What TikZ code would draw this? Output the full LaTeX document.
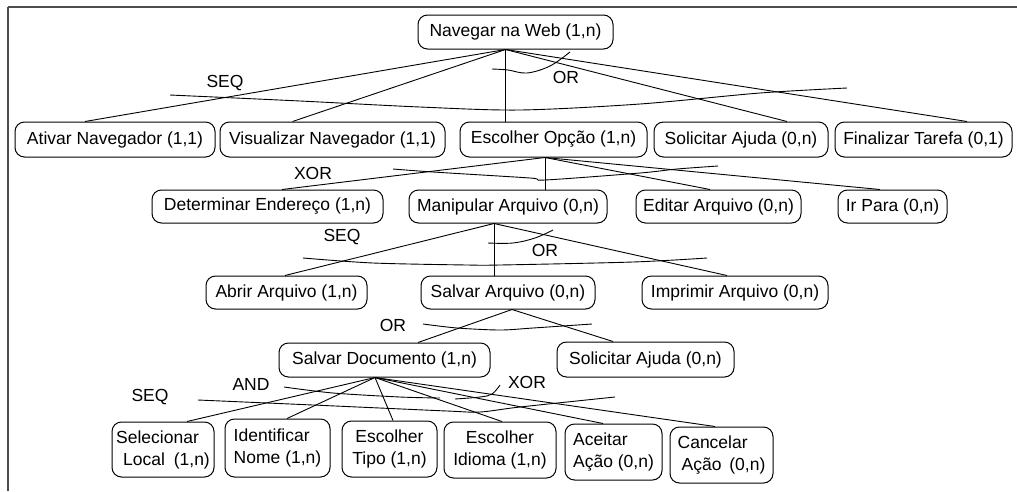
\documentclass[tikz,border=0pt]{standalone}
\usepackage{fontspec}
\setmainfont{Liberation Sans}
\begin{document}
\begin{tikzpicture}[x=1pt,y=-1pt,
  task/.style={draw, rounded corners=9.5pt, line width=1pt, inner sep=0pt,
    font=\fontsize{17.5}{22}\selectfont, align=center},
  lbl/.style={inner sep=0pt, font=\fontsize{17.5}{22}\selectfont},
  link/.style={line width=0.9pt},
  bar/.style={line width=0.9pt},
  frameline/.style={line width=2pt, draw=black!70}]
\useasboundingbox (0,0) rectangle (1017,491);
\fill[white] (0,0) rectangle (1017,491);

% outer frame (top and left edges)
\draw[frameline] (8,7) -- (1017,7);
\draw[frameline] (8,7) -- (8,491);

% ---- tasks ----
\node[task, minimum width=195, minimum height=34] (nav)  at (515.5,32)  {Navegar na Web (1,n)};

\node[task, minimum width=200, minimum height=35] (ativ) at (115,139.5)  {Ativar Navegador (1,1)};
\node[task, minimum width=225, minimum height=35] (visu) at (332.5,139.5){Visualizar Navegador (1,1)};
\node[task, minimum width=187, minimum height=35] (esco) at (553.5,139.5){Escolher Opção (1,n)};
\node[task, minimum width=174, minimum height=35] (soli) at (741,139.5)  {Solicitar Ajuda (0,n)};
\node[task, minimum width=177, minimum height=35] (fina) at (923.5,139.5){Finalizar Tarefa (0,1)};

\node[task, minimum width=231, minimum height=33] (dete) at (267.5,206.5){Determinar Endereço (1,n)};
\node[task, minimum width=198, minimum height=33] (mani) at (508,206.5)  {Manipular Arquivo (0,n)};
\node[task, minimum width=165, minimum height=33] (edit) at (718.5,206.5){Editar Arquivo (0,n)};
\node[task, minimum width=109, minimum height=33] (irpa) at (892.5,206.5){Ir Para (0,n)};

\node[task, minimum width=161, minimum height=33] (abri) at (286.5,292.5){Abrir Arquivo (1,n)};
\node[task, minimum width=174, minimum height=33] (salv) at (508,292.5)  {Salvar Arquivo (0,n)};
\node[task, minimum width=186, minimum height=33] (impr) at (735,292.5)  {Imprimir Arquivo (0,n)};

\node[task, minimum width=211, minimum height=34] (sdoc) at (384.5,360)  {Salvar Documento (1,n)};
\node[task, minimum width=177, minimum height=35] (sola) at (645.5,359.5){Solicitar Ajuda (0,n)};

\node[task, align=left, minimum width=102, minimum height=55] (sele) at (163,449.5)
  {Selecionar\\\hspace{7pt}Local\hspace{4pt} (1,n)};
\node[task, align=left, minimum width=105, minimum height=58] (iden) at (277.5,448)
  {Identificar\\Nome (1,n)};
\node[task, minimum width=95, minimum height=56] (etip) at (389.5,449)
  {Escolher\\Tipo (1,n)};
\node[task, minimum width=112, minimum height=56] (eidi) at (500,450)
  {Escolher\\Idioma (1,n)};
\node[task, align=left, minimum width=97, minimum height=56] (acei) at (613.5,452)
  {Aceitar\\Ação (0,n)};
\node[task, align=left, minimum width=103, minimum height=56] (canc) at (721.5,455)
  {Cancelar\\\hspace{4pt}Ação\hspace{3pt} (0,n)};

% ---- decomposition links ----
\coordinate (navb) at ([xshift=-10]nav.south);
\draw[link] (navb) -- ([xshift=-30]ativ.north);
\draw[link] (navb) -- ([xshift=-40]visu.north);
\draw[link] (navb) -- (navb |- esco.north);
\draw[link] (navb) -- ([xshift=46]soli.north);
\draw[link] (navb) -- ([xshift=43.5]fina.north);

\coordinate (escb) at ([xshift=-8.5]esco.south);
\draw[link] (escb) -- ([xshift=14.5]dete.north);
\draw[link] (escb) -- (escb |- mani.north);
\draw[link] (escb) -- ([xshift=-8.5]edit.north);
\draw[link] (escb) -- ([xshift=-12.5]irpa.north);

\coordinate (manb) at ([xshift=-14]mani.south);
\draw[link] (manb) -- ([xshift=-1.5]abri.north);
\draw[link] (manb) -- (manb |- salv.north);
\draw[link] (manb) -- ([xshift=-8]impr.north);

\coordinate (salb) at ([xshift=4]salv.south);
\draw[link] (salb) -- ([xshift=33.5]sdoc.north);
\draw[link] (salb) -- ([xshift=-32.5]sola.north);

\coordinate (sdob) at ([xshift=-9.5]sdoc.south);
\draw[link] (sdob) -- ([xshift=24]sele.north);
\draw[link] (sdob) -- ([xshift=9.5]iden.north);
\draw[link] (sdob) -- ([xshift=3.5]etip.north);
\draw[link] (sdob) -- ([xshift=2]eidi.north);
\draw[link] (sdob) -- ([xshift=-10.5]acei.north);
\draw[link] (sdob) -- ([xshift=-6.5]canc.north);

% ---- constructor bars and labels ----
% level 1
\draw[bar] plot[smooth, tension=0.5] coordinates {(170,95) (300,101) (420,107) (520,110) (640,104) (760,93) (847,88)};
\node[lbl] (seq1) at (225,83) {SEQ};
\draw[bar] plot[smooth, tension=0.6] coordinates {(492,69) (508,70) (527,73) (550,66) (570,52)};
\node[lbl] (or1) at (566,77) {OR};

% level 2
\draw[bar] plot[smooth, tension=0.5] coordinates {(393,169) (433,172) (530,178) (545,180) (640,173) (677,169) (718,166)};
\node[lbl] (xor2) at (313,173) {XOR};

% level 3
\draw[bar] plot[smooth, tension=0.5] coordinates {(303,258) (373,263) (467,265) (500,265) (633,262) (707,258)};
\node[lbl] (seq3) at (342,237) {SEQ};
\draw[bar] plot[smooth, tension=0.6] coordinates {(488,243) (513,243) (535,238) (553,230)};
\node[lbl] (or3) at (545,250) {OR};

% level 4
\draw[bar] plot[smooth, tension=0.5] coordinates {(423,324) (457,328) (500,330) (533,328) (592,324)};
\node[lbl] (or4) at (393,325) {OR};

% level 5
\draw[bar] plot[smooth, tension=0.5] coordinates {(198,400) (313,405) (447,411) (480,412) (520,407) (615,397)};
\node[lbl] (seq5) at (150,397) {SEQ};
\draw[bar] plot[smooth, tension=0.5] coordinates {(284,387) (333,393) (400,397) (440,398)};
\node[lbl] (and5) at (251,384) {AND};
\draw[bar] plot[smooth, tension=0.6] coordinates {(455,399) (480,397) (492,394) (500,385)};
\node[lbl] (xor5) at (527,382) {XOR};
\end{tikzpicture}
\end{document}
